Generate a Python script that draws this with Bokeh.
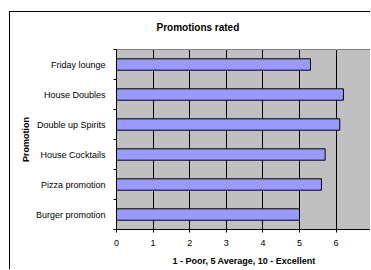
from bokeh.plotting import figure
from bokeh.models import FixedTicker, Range1d, Title, LinearAxis
from bokeh.embed import file_html
from bokeh.resources import INLINE

categories = ["Burger promotion", "Pizza promotion", "House Cocktails",
              "Double up Spirits", "House Doubles", "Friday lounge"]
ratings = [5.0, 5.6, 5.7, 6.1, 6.2, 5.3]
x_ticks = [0, 1, 2, 3, 4, 5, 6, 7, 8, 9, 10]

ypos = [i + 0.5 for i in range(len(categories))]
bounds = list(range(len(categories) + 1))

FONT = "Liberation Sans"

p = figure(width=361, height=258, output_backend="svg", toolbar_location=None,
           x_range=Range1d(0, 6.967), y_range=Range1d(0, len(categories)),
           min_border_left=106, min_border_right=0, min_border_top=37,
           min_border_bottom=41)
p.margin = (11, 0, 0, 9)
p.styles = {"border-left": "1px solid black", "border-top": "1px solid black"}

p.title = Title(text="Promotions rated", align="left", offset=40, standoff=0,
                text_font=FONT, text_font_size="10px", text_font_style="bold",
                text_color="black")

p.background_fill_color = "#c0c0c0"
p.border_fill_color = "white"
p.outline_line_color = "#808080"

p.hbar(y=ypos, right=ratings, left=0, height=0.38, fill_color="#9999ff",
       line_color="black", line_width=1)

bottom_axis = p.below[0]
left_axis = p.left[0]

bottom_axis.ticker = FixedTicker(ticks=x_ticks)
left_axis.ticker = FixedTicker(ticks=ypos, minor_ticks=bounds)
left_axis.major_label_overrides = {y: c for y, c in zip(ypos, categories)}

p.xgrid.ticker = FixedTicker(ticks=x_ticks)
p.xgrid.grid_line_color = "black"
p.xgrid.grid_line_width = 1
p.ygrid.grid_line_color = None

for ax in (bottom_axis, left_axis):
    ax.axis_line_color = "black"
    ax.major_label_text_font = FONT
    ax.major_label_text_font_size = "9px"
    ax.major_label_text_color = "black"
    ax.axis_label_text_font = FONT
    ax.axis_label_text_font_size = "9px"
    ax.axis_label_text_font_style = "bold"
    ax.axis_label_text_color = "black"

bottom_axis.axis_label = "1 - Poor, 5 Average, 10 - Excellent"
bottom_axis.major_tick_out = 3
bottom_axis.major_tick_in = 0
bottom_axis.minor_tick_line_color = None
bottom_axis.major_label_standoff = 7
bottom_axis.axis_label_standoff = 7

left_axis.axis_label = "Promotion"
left_axis.major_tick_out = 0
left_axis.major_tick_in = 0
left_axis.minor_tick_out = 3
left_axis.minor_tick_in = 0
left_axis.minor_tick_line_color = "black"
left_axis.major_label_standoff = 8
left_axis.axis_label_standoff = 2

# invisible spacer between title and plot area (white ticks on white border)
spacer = LinearAxis(ticker=FixedTicker(ticks=x_ticks), axis_line_color=None,
                    major_tick_out=17, major_tick_in=0, minor_tick_out=0,
                    minor_tick_in=0, major_label_standoff=0,
                    major_label_text_font_size="1px",
                    major_label_overrides={t: "" for t in x_ticks},
                    major_tick_line_color="white", minor_tick_line_color=None)
p.add_layout(spacer, "above")

open("out.html", "w").write(file_html(p, INLINE))
